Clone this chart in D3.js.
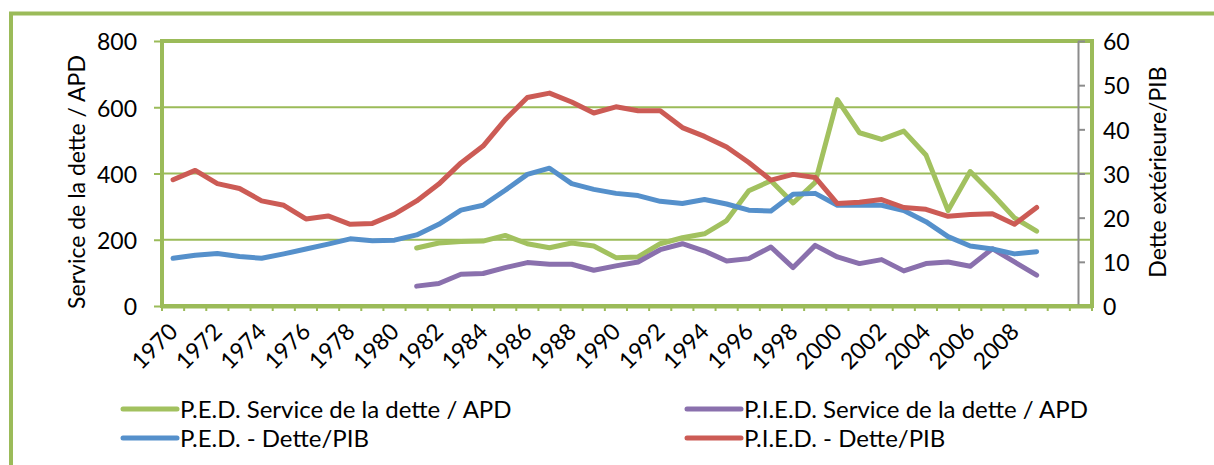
<!DOCTYPE html>
<html><head><meta charset="utf-8">
<script src="https://cdn.jsdelivr.net/npm/d3@7/dist/d3.min.js"></script>
<style>
body{margin:0;background:#fff;}
text{font-family:Lato,"Open Sans",sans-serif;fill:#000;}
</style>
</head><body>
<svg id="chart" width="1214" height="465"></svg>
<script>
// ---- data ----
const years = ["1970","1971","1972","1973","1974","1975","1976","1977","1978","1979",
  "1980","1981","1982","1983","1984","1985","1986","1987","1988","1989",
  "1990","1991","1992","1993","1994","1995","1996","1997","1998","1999",
  "2000","2001","2002","2003","2004","2005","2006","2007","2008","2009","2010","2011"];
const xTickLabels = ["1970","1972","1974","1976","1978","1980","1982","1984","1986","1988",
  "1990","1992","1994","1996","1998","2000","2002","2004","2006","2008"];
const leftTicks = [0,200,400,600,800];
const rightTicks = [0,10,20,30,40,50,60];
const seriesNames = ["P.E.D. Service de la dette / APD","P.I.E.D. Service de la dette / APD",
  "P.E.D. - Dette/PIB","P.I.E.D. - Dette/PIB"];
// left axis (Service de la dette / APD), 1970..2009
const pedService = [null,null,null,null,null,null,null,null,null,null,
  null,175,190,195,196,213,188,176,190,181,
  146,148,188,206,218,258,348,378,311,373,
  623,523,503,528,456,288,406,338,266,226];
const piedService = [null,null,null,null,null,null,null,null,null,null,
  null,60,68,96,98,116,131,126,126,108,
  121,133,170,188,166,136,143,178,116,183,
  148,128,140,106,128,133,120,173,133,93];
// right axis (Dette extérieure/PIB), 1970..2009
const pedDebt = [10.8,11.5,11.9,11.2,10.8,11.8,12.9,14.0,15.2,14.8,
  14.9,16.1,18.5,21.7,22.8,26.2,29.8,31.2,27.7,26.4,
  25.5,25.0,23.7,23.2,24.1,23.1,21.7,21.5,25.3,25.5,
  22.8,22.8,22.8,21.6,19.1,15.7,13.6,12.9,11.8,12.3];
const piedDebt = [28.6,30.7,27.7,26.6,23.8,22.8,19.7,20.4,18.5,18.7,
  20.8,23.8,27.6,32.4,36.2,42.2,47.2,48.2,46.2,43.7,
  45.1,44.2,44.2,40.4,38.4,36.0,32.5,28.5,29.8,29.1,
  23.2,23.5,24.1,22.3,21.9,20.3,20.7,20.9,18.5,22.3];

// ---- styles ----
const GREEN = "#9BBB59";
const colors = ["#A2C15F","#8A70AD","#5590CB","#CC5B55"];
const FONT = 23;
const LEGEND_FONT = 24;

const svg = d3.select("#chart");
const L = 162, R = 1092, T = 41, B = 306;

svg.append("rect").attr("x",0).attr("y",0).attr("width",1214).attr("height",465).attr("fill","#fff");
// outer frame
svg.append("rect").attr("x",11).attr("y",13.5).attr("width",1300).attr("height",600)
  .attr("fill","none").attr("stroke",GREEN).attr("stroke-width",4);

const x = d3.scaleBand().domain(years).range([L,R]);
const yL = d3.scaleLinear().domain([0,800]).range([B,T]);
const yR = d3.scaleLinear().domain([0,60]).range([B,T]);

// gridlines
svg.append("g").selectAll("line").data(leftTicks.filter(v=>v>0 && v<800)).join("line")
  .attr("x1",L).attr("x2",R).attr("y1",d=>yL(d)).attr("y2",d=>yL(d))
  .attr("stroke",GREEN).attr("stroke-width",2);

// plot frame
svg.append("rect").attr("x",L).attr("y",T).attr("width",R-L).attr("height",B-T)
  .attr("fill","none").attr("stroke",GREEN).attr("stroke-width",4);

// left axis
const gL = svg.append("g").attr("transform",`translate(${L},0)`)
  .call(d3.axisLeft(yL).tickValues(leftTicks).tickSize(8).tickPadding(17).tickSizeOuter(0));
gL.select(".domain").remove();
gL.selectAll(".tick line").attr("stroke",GREEN).attr("stroke-width",2);
gL.selectAll(".tick text").style("font-size",FONT+"px").attr("dy","0.38em");

// right axis (gray)
const gR = svg.append("g").attr("transform",`translate(1078,0)`)
  .call(d3.axisRight(yR).tickValues(rightTicks).tickSize(7).tickPadding(18).tickSizeOuter(0));
gR.select(".domain").attr("stroke","#8C8C8C").attr("stroke-width",2);
gR.selectAll(".tick line").attr("stroke","#8C8C8C").attr("stroke-width",2);
gR.selectAll(".tick text").style("font-size",FONT+"px").attr("dy","0.38em");

// bottom axis
const gB = svg.append("g").attr("transform",`translate(0,${B})`)
  .call(d3.axisBottom(x).tickValues([]).tickSizeOuter(0));
gB.select(".domain").attr("stroke",GREEN).attr("stroke-width",4);
svg.append("g").selectAll("line").data(years.concat(["end"])).join("line")
  .attr("x1",(d,i)=> i<years.length ? x(d) : R).attr("x2",(d,i)=> i<years.length ? x(d) : R)
  .attr("y1",B).attr("y2",B+5).attr("stroke",GREEN).attr("stroke-width",2);
svg.append("g").selectAll("text").data(xTickLabels).join("text")
  .attr("text-anchor","end")
  .attr("transform",d=>`translate(${x(d)+x.bandwidth()/2+6},${B+27}) rotate(-45)`)
  .style("font-size",FONT+"px").text(d=>d);

// axis titles
svg.append("text").attr("text-anchor","middle")
  .attr("transform","translate(85,182) rotate(-90)")
  .style("font-size",FONT+"px").text("Service de la dette / APD");
svg.append("text").attr("text-anchor","middle")
  .attr("transform","translate(1166,172) rotate(-90)")
  .style("font-size",FONT+"px").text("Dette extérieure/PIB");

// lines
const cx = i => x(years[i]) + x.bandwidth()/2;
function drawLine(data, scale, color){
  const line = d3.line().defined(d=>d!=null).x((d,i)=>cx(i)).y(d=>scale(d));
  svg.append("path").datum(data).attr("d",line).attr("fill","none")
    .attr("stroke",color).attr("stroke-width",5)
    .attr("stroke-linejoin","round").attr("stroke-linecap","round");
}
drawLine(pedService, yL, colors[0]);
drawLine(piedService, yL, colors[1]);
drawLine(pedDebt, yR, colors[2]);
drawLine(piedDebt, yR, colors[3]);

// legend
const legendPos = [[123,409],[687,409],[123,438],[687,438]];
const lg = svg.append("g").selectAll("g").data(seriesNames).join("g")
  .attr("transform",(d,i)=>`translate(${legendPos[i][0]},${legendPos[i][1]})`);
lg.append("line").attr("x1",0).attr("x2",54).attr("y1",0).attr("y2",0)
  .attr("stroke",(d,i)=>colors[i]).attr("stroke-width",5).attr("stroke-linecap","round");
lg.append("text").attr("x",57).attr("y",9).style("font-size",LEGEND_FONT+"px").text(d=>d);
</script>
</body></html>
